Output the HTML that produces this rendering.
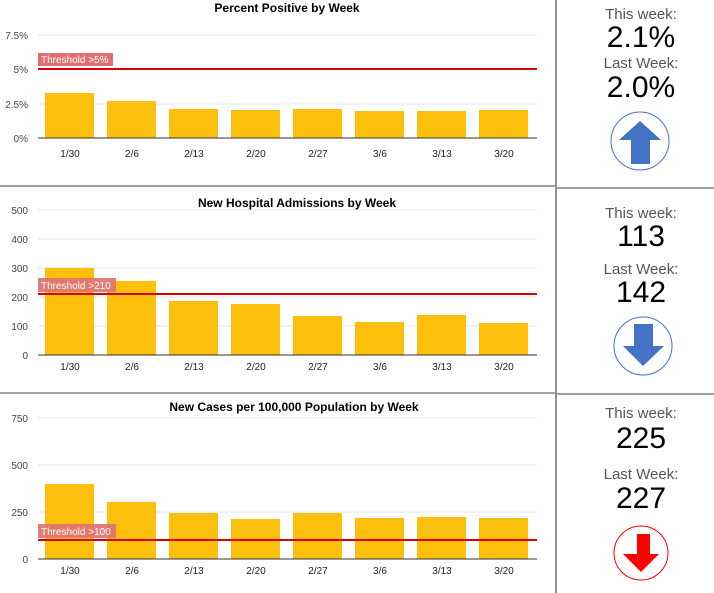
<!DOCTYPE html>
<html><head><meta charset="utf-8"><style>
body{margin:0;background:#fff}
svg{display:block;font-family:"Liberation Sans",Arial,sans-serif}
</style></head><body>
<svg width="714" height="593" viewBox="0 0 714 593" xmlns="http://www.w3.org/2000/svg">
<rect width="714" height="593" fill="#fff"/>
<!-- separators -->
<rect x="0" y="185" width="556" height="2" fill="#a0a0a0"/>
<rect x="556" y="187" width="158" height="2" fill="#a0a0a0"/>
<rect x="0" y="392" width="556" height="2" fill="#a0a0a0"/>
<rect x="556" y="393" width="158" height="2" fill="#a0a0a0"/>
<rect x="555" y="0" width="2" height="593" fill="#909090"/>

<!-- Chart 1 -->
<text x="287" y="12" font-size="12" font-weight="bold" text-anchor="middle" fill="#000">Percent Positive by Week</text>
<g stroke="#e4e4e4" stroke-width="1">
<line x1="38" y1="35" x2="537" y2="35"/><line x1="38" y1="104" x2="537" y2="104"/>
</g>
<g font-size="10" fill="#444" text-anchor="end">
<text x="28" y="39">7.5%</text><text x="28" y="73">5%</text><text x="28" y="108">2.5%</text><text x="28" y="142">0%</text>
</g>
<g fill="#fbbf0c">
<rect x="45" y="93" width="49" height="45"/><rect x="107" y="101" width="49" height="37"/>
<rect x="169" y="109" width="49" height="29"/><rect x="231" y="110" width="49" height="28"/>
<rect x="293" y="109" width="49" height="29"/><rect x="355" y="111" width="49" height="27"/>
<rect x="417" y="111" width="49" height="27"/><rect x="479" y="110" width="49" height="28"/>
</g>
<line x1="38" y1="138" x2="537" y2="138" stroke="#333" stroke-width="1"/>
<line x1="38" y1="69" x2="537" y2="69" stroke="#d00" stroke-width="2"/>
<rect x="38" y="53" width="75" height="13" fill="#e07070"/>
<text x="41" y="63" font-size="10" fill="#fff">Threshold &gt;5%</text>
<g font-size="10" fill="#222" text-anchor="middle">
<text x="70" y="157">1/30</text><text x="132" y="157">2/6</text><text x="194" y="157">2/13</text><text x="256" y="157">2/20</text>
<text x="318" y="157">2/27</text><text x="380" y="157">3/6</text><text x="442" y="157">3/13</text><text x="504" y="157">3/20</text>
</g>

<!-- Chart 2 -->
<text x="297" y="207" font-size="12" font-weight="bold" text-anchor="middle" fill="#000">New Hospital Admissions by Week</text>
<g stroke="#e4e4e4" stroke-width="1">
<line x1="38" y1="210" x2="537" y2="210"/><line x1="38" y1="239" x2="537" y2="239"/>
<line x1="38" y1="268" x2="537" y2="268"/><line x1="38" y1="297" x2="537" y2="297"/><line x1="38" y1="326" x2="537" y2="326"/>
</g>
<g font-size="10" fill="#444" text-anchor="end">
<text x="28" y="214">500</text><text x="28" y="243">400</text><text x="28" y="272">300</text>
<text x="28" y="301">200</text><text x="28" y="330">100</text><text x="28" y="359">0</text>
</g>
<g fill="#fbbf0c">
<rect x="45" y="268" width="49" height="87"/><rect x="107" y="281" width="49" height="74"/>
<rect x="169" y="301" width="49" height="54"/><rect x="231" y="304" width="49" height="51"/>
<rect x="293" y="316" width="49" height="39"/><rect x="355" y="322" width="49" height="33"/>
<rect x="417" y="315" width="49" height="40"/><rect x="479" y="323" width="49" height="32"/>
</g>
<line x1="38" y1="355" x2="537" y2="355" stroke="#333" stroke-width="1"/>
<line x1="38" y1="294" x2="537" y2="294" stroke="#d00" stroke-width="2"/>
<rect x="38" y="278" width="78" height="14" fill="#e07070" opacity="0.9"/>
<text x="41" y="289" font-size="10" fill="#fff">Threshold &gt;210</text>
<g font-size="10" fill="#222" text-anchor="middle">
<text x="70" y="370">1/30</text><text x="132" y="370">2/6</text><text x="194" y="370">2/13</text><text x="256" y="370">2/20</text>
<text x="318" y="370">2/27</text><text x="380" y="370">3/6</text><text x="442" y="370">3/13</text><text x="504" y="370">3/20</text>
</g>

<!-- Chart 3 -->
<text x="294" y="411" font-size="12" font-weight="bold" text-anchor="middle" fill="#000">New Cases per 100,000 Population by Week</text>
<g stroke="#e4e4e4" stroke-width="1">
<line x1="38" y1="418" x2="537" y2="418"/><line x1="38" y1="465" x2="537" y2="465"/><line x1="38" y1="512" x2="537" y2="512"/>
</g>
<g font-size="10" fill="#444" text-anchor="end">
<text x="28" y="422">750</text><text x="28" y="469">500</text><text x="28" y="516">250</text><text x="28" y="563">0</text>
</g>
<g fill="#fbbf0c">
<rect x="45" y="484" width="49" height="75"/><rect x="107" y="502" width="49" height="57"/>
<rect x="169" y="513" width="49" height="46"/><rect x="231" y="519" width="49" height="40"/>
<rect x="293" y="513" width="49" height="46"/><rect x="355" y="518" width="49" height="41"/>
<rect x="417" y="517" width="49" height="42"/><rect x="479" y="518" width="49" height="41"/>
</g>
<line x1="38" y1="559" x2="537" y2="559" stroke="#333" stroke-width="1"/>
<line x1="38" y1="540" x2="537" y2="540" stroke="#d00" stroke-width="2"/>
<rect x="38" y="524" width="78" height="14" fill="#e07070" opacity="0.9"/>
<text x="41" y="535" font-size="10" fill="#fff">Threshold &gt;100</text>
<g font-size="10" fill="#222" text-anchor="middle">
<text x="70" y="574">1/30</text><text x="132" y="574">2/6</text><text x="194" y="574">2/13</text><text x="256" y="574">2/20</text>
<text x="318" y="574">2/27</text><text x="380" y="574">3/6</text><text x="442" y="574">3/13</text><text x="504" y="574">3/20</text>
</g>

<!-- Right panels -->
<g text-anchor="middle">
<text x="641" y="19" font-size="15" fill="#555">This week:</text>
<text x="641" y="47" font-size="30" fill="#000">2.1%</text>
<text x="641" y="68" font-size="15" fill="#555">Last Week:</text>
<text x="641" y="97" font-size="30" fill="#000">2.0%</text>

<text x="641" y="218" font-size="15" fill="#555">This week:</text>
<text x="641" y="246" font-size="30" fill="#000">113</text>
<text x="641" y="274" font-size="15" fill="#555">Last Week:</text>
<text x="641" y="302" font-size="30" fill="#000">142</text>

<text x="641" y="418" font-size="15" fill="#555">This week:</text>
<text x="641" y="448" font-size="30" fill="#000">225</text>
<text x="641" y="479" font-size="15" fill="#555">Last Week:</text>
<text x="641" y="508" font-size="30" fill="#000">227</text>
</g>
<circle cx="640" cy="141" r="29" fill="#fff" stroke="#4472c4" stroke-width="1"/>
<polygon points="640,121 661,140 650,140 650,164 631,164 631,140 619,140" fill="#4472c4"/>
<circle cx="643" cy="346" r="29" fill="#fff" stroke="#4472c4" stroke-width="1"/>
<polygon points="634,324 653,324 653,346 664,346 643,366 623,346 634,346" fill="#4472c4"/>
<circle cx="641" cy="553" r="27" fill="#fff" stroke="#f00" stroke-width="1"/>
<polygon points="637,534 650,534 650,554 659,554 641,572 623,554 637,554" fill="#f00"/>
</svg>
</body></html>
